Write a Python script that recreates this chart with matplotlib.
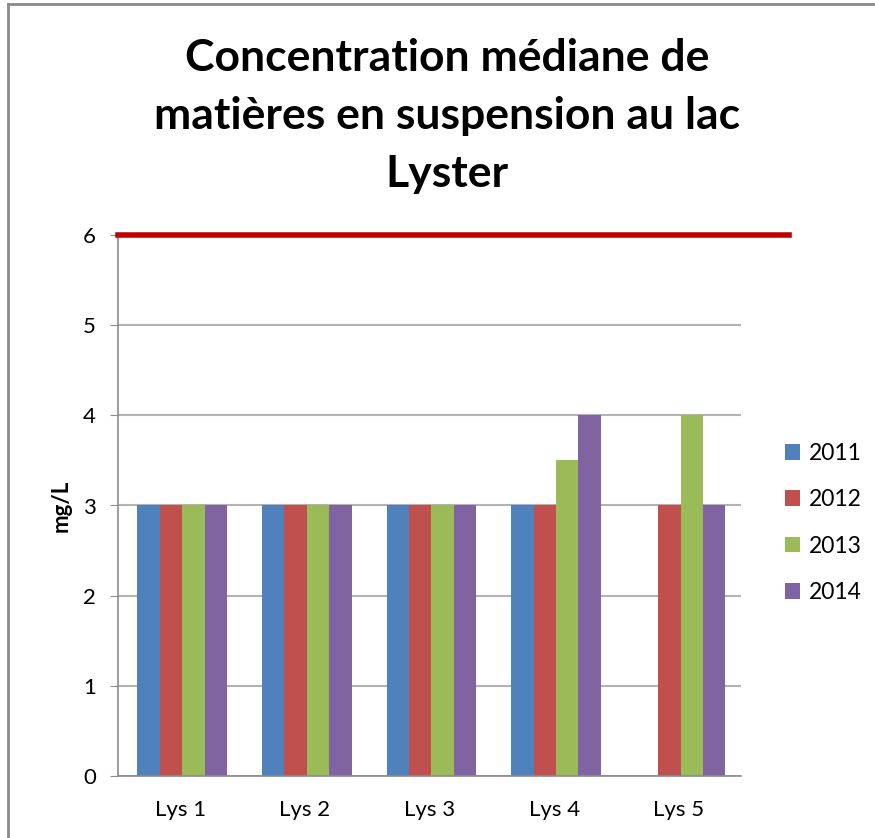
import numpy as np
import matplotlib
matplotlib.use("Agg")
import matplotlib.pyplot as plt
from matplotlib.lines import Line2D

plt.rcParams['font.family'] = ['Lato', 'DejaVu Sans']

# data
stations = ['Lys 1', 'Lys 2', 'Lys 3', 'Lys 4', 'Lys 5']
years = ['2011', '2012', '2013', '2014']
v2011 = [3, 3, 3, 3, np.nan]
v2012 = [3, 3, 3, 3, 3]
v2013 = [3, 3, 3, 3.5, 4]
v2014 = [3, 3, 3, 4, 3]
threshold = 6  # red reference line
yticks = [0, 1, 2, 3, 4, 5, 6]

series = [v2011, v2012, v2013, v2014]
colors = ['#4F81BD', '#C0504D', '#9BBB59', '#8064A2']

fig = plt.figure(figsize=(8.75, 8.38), dpi=100)
ax = fig.add_axes([118/875, 1 - 776/838, (741 - 118)/875, (776 - 235)/838])

x = np.arange(len(stations))
w = 0.18
handles = []
for i, (vals, c) in enumerate(zip(series, colors)):
    b = ax.bar(x + (i - 1.5) * w + 0.015, vals, width=w, color=c, zorder=2)
    handles.append(b)

ax.set_xlim(-0.5, len(stations) - 0.5)
ax.set_ylim(0, 6)
ax.set_yticks(yticks)
ax.yaxis.grid(True, color='#b3b3b3', linewidth=1.5, zorder=0)
ax.set_axisbelow(True)
ax.axhline(threshold, xmin=0, xmax=(789 - 118)/(741 - 118), color='#C00000',
           linewidth=4, clip_on=False, zorder=3)

for s in ['top', 'right']:
    ax.spines[s].set_visible(False)
for s in ['left', 'bottom']:
    ax.spines[s].set_color('#8c8c8c')
    ax.spines[s].set_linewidth(1.2)

ax.set_xticks(x)
ax.set_xticklabels(stations, fontsize=16)
ax.tick_params(axis='x', length=0, pad=17)
ax.tick_params(axis='y', labelsize=16, length=6, color='#8c8c8c', pad=10)
ax.set_ylabel('mg/L', fontsize=16, fontweight='bold', labelpad=8)

fig.text(447/875, 1 - 116/838,
         'Concentration médiane de\nmatières en suspension au lac\nLyster',
         ha='center', va='center', fontsize=32, fontweight='bold',
         linespacing=1.55)

fig.legend(handles, years, loc='center left',
           bbox_to_anchor=(764/875, 1 - 523/838), frameon=False,
           fontsize=16.5, handlelength=0.68, handleheight=0.68,
           handletextpad=0.4, labelspacing=1.1)

# chart frame (left and top edges visible)
fig.add_artist(Line2D([8/875, 8/875], [0, 1 - 4/838], color='#8a8a8a', lw=2))
fig.add_artist(Line2D([8/875, 1], [1 - 4/838, 1 - 4/838], color='#8a8a8a', lw=2))

fig.savefig('out.png', dpi=100)
